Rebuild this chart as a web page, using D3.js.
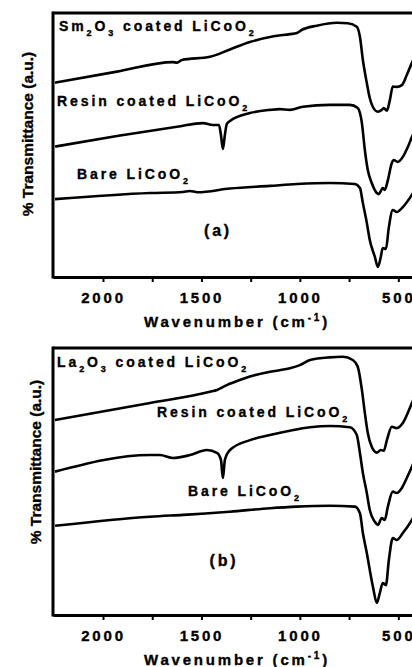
<!DOCTYPE html>
<html>
<head>
<meta charset="utf-8">
<script src="https://cdn.jsdelivr.net/npm/d3@7"></script>
<style>
  body { margin: 0; background: #fff; }
  svg { display: block; font-family: "Liberation Sans", Arial, sans-serif; font-weight: bold; }
  text { stroke: #000; stroke-width: 0.35px; fill: #000; }
</style>
</head>
<body>
<svg width="412" height="667"></svg>
<script>
// [wavenumber (cm-1), % transmittance (a.u.)]
const smCoated = [[2244,73.6],[1929,77.8],[1645,81.4],[1624,81.2],[1599,82.2],[1457,83.4],[1355,86.2],[1254,89.0],[1152,90.9],[1051,92.0],[1015,92.4],[990,93.6],[914,95.2],[812,96.3],[756,96.1],[711,94.8],[695,91.0],[680,82.2],[660,73.5],[645,67.8],[629,64.4],[604,62.6],[584,63.3],[574,64.0],[558,63.0],[543,67.0],[528,72.1],[508,72.0],[482,72.7],[457,76.5],[431,81.1],[400,86]]
const resinA = [[2244,49.4],[1929,53.4],[1624,56.9],[1492,58.3],[1442,57.6],[1411,57.6],[1401,53.8],[1391,48.5],[1381,53.8],[1371,58.0],[1355,59.1],[1254,62.1],[1152,63.3],[1102,63.6],[1051,63.3],[985,64.5],[848,65.2],[746,65.2],[706,64.0],[685,58.3],[670,48.1],[655,40.5],[635,35.6],[609,31.8],[599,31.4],[579,33.7],[569,33.0],[553,36.7],[533,43.2],[523,44.3],[503,43.6],[477,45.5],[452,49.2],[431,53.0],[400,58]]
const bareA = [[2244,29.5],[1761,31.8],[1594,32.2],[1560,32.6],[1520,32.1],[1355,33.5],[1152,34.5],[1015,35.2],[848,35.6],[721,35.2],[695,33.7],[680,28.0],[660,20.5],[645,14.0],[619,7.6],[604,3.8],[589,7.6],[579,11.0],[563,10.6],[548,18.9],[528,25.4],[508,24.6],[477,26.5],[431,31.1],[400,35]]

const laCoated = [[2244,73.0],[1761,79.4],[1457,83.6],[1421,84.3],[1371,86.1],[1305,88.0],[1254,89.3],[1152,91.1],[1051,92.4],[1000,93.6],[949,95.5],[848,96.5],[782,96.7],[731,95.5],[706,93.0],[685,84.3],[670,75.7],[655,68.2],[635,63.0],[609,60.8],[589,61.8],[574,61.5],[558,65.5],[533,70.5],[508,70.0],[477,71.9],[431,79.4],[400,85]]
const resinB = [[2244,53.7],[1761,59.9],[1711,59.9],[1645,58.8],[1558,59.9],[1472,61.8],[1421,60.7],[1401,58.1],[1391,51.3],[1381,58.1],[1355,61.8],[1254,65.5],[1152,67.4],[1051,69.0],[949,70.3],[848,70.8],[746,70.3],[711,67.4],[695,60.7],[680,53.2],[660,45.7],[645,39.3],[619,34.9],[604,33.7],[584,36.3],[569,35.6],[553,40.6],[528,46.2],[508,45.7],[482,47.6],[457,51.3],[431,55.5],[400,61]]
const bareB = [[2244,33.4],[1761,36.8],[1594,37.5],[1480,38.0],[1355,38.7],[1152,40.0],[1015,40.6],[848,40.9],[721,40.6],[695,38.1],[680,30.7],[660,23.2],[645,16.9],[629,10.6],[609,4.5],[594,8.2],[579,12.0],[563,11.2],[548,20.6],[528,28.8],[508,28.1],[477,30.7],[431,35.6],[400,40]]

const majorTicks = [2000, 1500, 1000, 500]
const minorTicks = [1750, 1250, 750]
const labelsA = ["Sm_2O_3 coated LiCoO_2", "Resin coated LiCoO_2", "Bare LiCoO_2"]
const labelsB = ["La_2O_3 coated LiCoO_2", "Resin coated LiCoO_2", "Bare LiCoO_2"]
const yTitle = "% Transmittance (a.u.)"

const svg = d3.select("svg")
const x = d3.scaleLinear().domain([2254, 400]).range([53, 418])

const panels = [
    { id: "a", top: 13, bottom: 277, series: [smCoated, resinA, bareA], labels: labelsA,
      labelPos: [[59, 31], [57, 105.5], [77, 179]], tagPos: [218, 236], yTitlePos: [33, 134] },
    { id: "b", top: 348, bottom: 615, series: [laCoated, resinB, bareB], labels: labelsB,
      labelPos: [[57, 367], [157, 417], [188, 496]], tagPos: [224, 566], yTitlePos: [41, 462] }
]

panels.forEach(p => drawPanel(p))

function drawPanel(p) {
    const y = d3.scaleLinear().domain([0, 100]).range([p.bottom, p.top])
    const g = svg.append("g")

    svg.append("clipPath").attr("id", "clip-" + p.id)
        .append("rect")
        .attr("x", 53).attr("y", p.top)
        .attr("width", 412 - 53).attr("height", p.bottom - p.top)

    const line = d3.line()
        .x(d => x(d[0]))
        .y(d => y(d[1]))
        .curve(d3.curveMonotoneX)

    g.append("g").attr("clip-path", "url(#clip-" + p.id + ")")
        .selectAll("path")
        .data(p.series)
        .join("path")
        .attr("d", line)
        .attr("fill", "none")
        .attr("stroke", "#000")
        .attr("stroke-width", 2.6)
        .attr("stroke-linejoin", "round")

    // x axis
    const axis = d3.axisBottom(x)
        .tickValues(majorTicks.concat(minorTicks))
        .tickSize(5)
        .tickSizeOuter(0)
        .tickPadding(5)
        .tickFormat(d => majorTicks.includes(d) ? d : "")
    const ax = g.append("g").attr("transform", `translate(0,${p.bottom})`).call(axis)
    ax.select(".domain").attr("stroke-width", 3)
    ax.selectAll(".tick line").attr("stroke-width", 2)
    ax.selectAll(".tick text")
        .attr("fill", "#000")
        .style("font-size", "15px")
        .style("font-family", "Liberation Sans, Arial, sans-serif")
        .style("font-weight", "bold")
        .style("letter-spacing", "2.8px")
        .attr("dy", "1.05em")

    // left axis and top frame
    g.append("line").attr("x1", x.range()[0]).attr("x2", x.range()[0])
        .attr("y1", p.top - 1.5).attr("y2", p.bottom + 1.5)
        .attr("stroke", "#000").attr("stroke-width", 3)
    g.append("line").attr("x1", x.range()[0]).attr("x2", 412)
        .attr("y1", p.top).attr("y2", p.top)
        .attr("stroke", "#000").attr("stroke-width", 3)

    // x title
    const xt = g.append("text")
        .attr("x", 237).attr("y", p.bottom + 50)
        .attr("text-anchor", "middle")
        .style("font-size", "15px")
        .style("letter-spacing", "2.8px")
    xt.append("tspan").text("Wavenumber (cm")
    xt.append("tspan").attr("dy", -6).style("font-size", "10px").text("-1")
    xt.append("tspan").attr("dy", 6).text(")")

    // y title
    g.append("text")
        .attr("transform", `translate(${p.yTitlePos[0]},${p.yTitlePos[1]}) rotate(-90)`)
        .attr("text-anchor", "middle")
        .style("font-size", "15.5px")
        .text(yTitle)

    // curve labels, "_n" marks a subscript
    p.labels.forEach((lab, i) => {
        const t = g.append("text")
            .attr("x", p.labelPos[i][0]).attr("y", p.labelPos[i][1])
            .style("font-size", "14px")
            .style("letter-spacing", "2.9px")
        let shift = 0
        lab.split(/(_\d)/).filter(s => s.length).forEach(part => {
            if (part[0] === "_") {
                t.append("tspan").attr("dy", 5 - shift).style("font-size", "9px").text(part.slice(1))
                shift = 5
            } else {
                t.append("tspan").attr("dy", -shift).text(part)
                shift = 0
            }
        })
    })

    g.append("text")
        .attr("x", p.tagPos[0]).attr("y", p.tagPos[1])
        .attr("text-anchor", "middle")
        .style("font-size", "16px")
        .style("letter-spacing", "2.8px")
        .text("(" + p.id + ")")
}
</script>
</body>
</html>
